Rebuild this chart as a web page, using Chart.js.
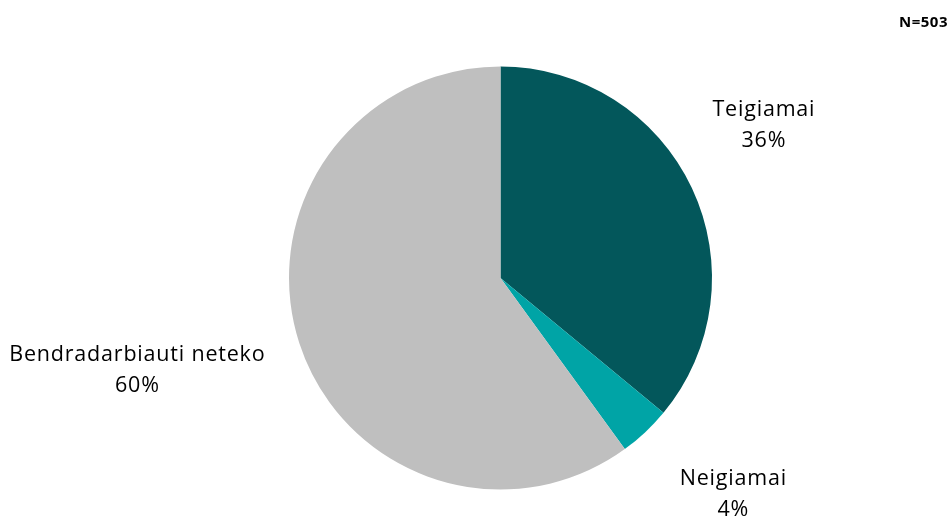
<!DOCTYPE html>
<html>
<head>
<meta charset="utf-8">
<script src="https://cdn.jsdelivr.net/npm/chart.js@4.4.0/dist/chart.umd.min.js"></script>
<style>
  html, body { margin: 0; padding: 0; background: #fff; }
  #wrap { position: relative; width: 952px; height: 519px; }
</style>
</head>
<body>
<div id="wrap"><canvas id="myChart"></canvas></div>
<script>
const categories = ['Teigiamai', 'Neigiamai', 'Bendradarbiauti neteko'];
const shares = [36, 4, 60];
const sliceColors = ['#03575B', '#00A4A6', '#BFBFBF'];
const sampleNote = 'N=503';

// label offsets from the arc mid point (outside end style)
const labelShift = [[72, -63], [88, 62], [-162, 27]];

const labelPlugin = {
  id: 'sliceLabels',
  afterDraw(chart) {
    const c = chart.ctx;
    const meta = chart.getDatasetMeta(0);
    c.save();
    c.fillStyle = '#000';
    c.textAlign = 'center';
    c.textBaseline = 'middle';
    c.font = '21.5px "Open Sans"';
    c.letterSpacing = '0.8px';
    meta.data.forEach((arc, i) => {
      const mid = (arc.startAngle + arc.endAngle) / 2;
      const px = arc.x + Math.cos(mid) * arc.outerRadius + labelShift[i][0];
      const py = arc.y + Math.sin(mid) * arc.outerRadius + labelShift[i][1];
      c.fillText(categories[i], px, py - 15);
      c.fillText(shares[i] + '%', px, py + 16);
    });
    c.font = 'bold 15px "Open Sans"';
    c.letterSpacing = '0.5px';
    c.textAlign = 'right';
    c.fillText(sampleNote, 948, 23);
    c.restore();
  }
};

const ctx = document.getElementById('myChart');
new Chart(ctx, {
  type: 'pie',
  data: {
    labels: categories,
    datasets: [{
      data: shares,
      backgroundColor: sliceColors,
      borderWidth: 0
    }]
  },
  options: {
    responsive: true,
    maintainAspectRatio: false,
    animation: false,
    layout: { padding: { top: 66.5, bottom: 29.5, left: 289, right: 240 } },
    plugins: {
      legend: { display: false },
      tooltip: { enabled: false }
    }
  },
  plugins: [labelPlugin]
});
</script>
</body>
</html>
